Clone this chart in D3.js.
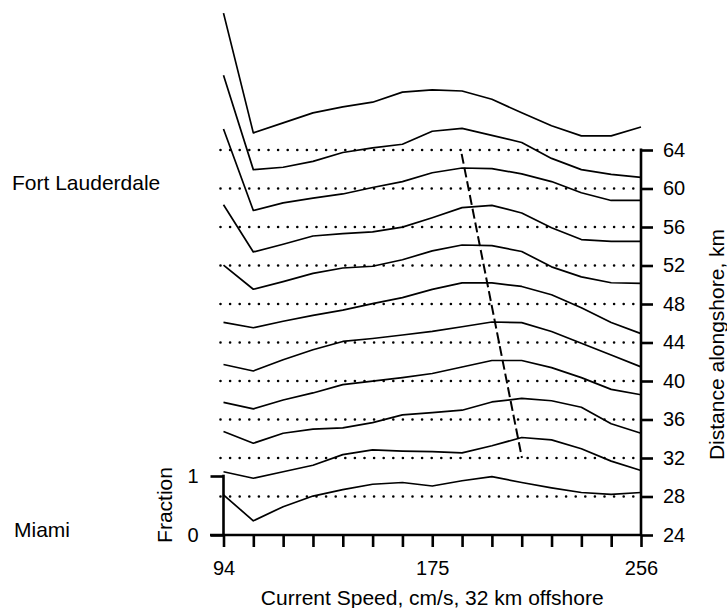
<!DOCTYPE html>
<html>
<head>
    <meta charset="utf-8">
    <title>Current speed profiles</title>
    <style>
        body { margin: 0; background: #fff; }
        text { font-family: "Liberation Sans", Arial, Helvetica, sans-serif; fill: #000; }
    </style>
</head>
<body>
<div class="plot_container"></div>
<script src="https://cdn.jsdelivr.net/npm/d3@7/dist/d3.min.js"></script>
<script type="text/javascript">
    // current speed bins, cm/s (15 bins from 94 to 256)
    var speedMin = 94, speedMax = 256, nBins = 15;
    var speeds = d3.range(nBins).map(function(k){ return speedMin + k*(speedMax-speedMin)/(nBins-1); });
    var speedLabels = [94, 175, 256];

    // distance alongshore of each profile, km
    var distances = [24, 28, 32, 36, 40, 44, 48, 52, 56, 60, 64];
    var distTicks = [24, 28, 32, 36, 40, 44, 48, 52, 56, 60, 64];

    // fraction of time exceeding speed, one array per profile
    var profile24 = [0.68, 0.24, 0.48, 0.66, 0.77, 0.86, 0.89, 0.83, 0.92, 0.99, 0.89, 0.80, 0.72, 0.69, 0.72];
    var profile28 = [0.42, 0.31, 0.42, 0.53, 0.71, 0.79, 0.77, 0.76, 0.74, 0.86, 1.00, 0.96, 0.81, 0.60, 0.44];
    var profile32 = [0.45, 0.25, 0.42, 0.49, 0.51, 0.60, 0.73, 0.77, 0.81, 0.95, 1.01, 0.97, 0.86, 0.58, 0.42];
    var profile36 = [0.29, 0.18, 0.33, 0.45, 0.59, 0.65, 0.71, 0.78, 0.89, 1.00, 1.00, 0.88, 0.71, 0.51, 0.42];
    var profile40 = [0.28, 0.17, 0.36, 0.53, 0.67, 0.72, 0.78, 0.84, 0.92, 1.00, 0.99, 0.84, 0.64, 0.44, 0.24];
    var profile44 = [0.34, 0.25, 0.36, 0.46, 0.55, 0.66, 0.76, 0.90, 1.01, 1.01, 0.95, 0.81, 0.59, 0.34, 0.15];
    var profile48 = [0.66, 0.25, 0.38, 0.52, 0.61, 0.64, 0.75, 0.90, 1.00, 0.99, 0.89, 0.63, 0.46, 0.36, 0.35];
    var profile52 = [1.03, 0.23, 0.36, 0.50, 0.54, 0.57, 0.65, 0.81, 0.98, 1.02, 0.89, 0.64, 0.44, 0.41, 0.41];
    var profile56 = [1.66, 0.28, 0.41, 0.49, 0.56, 0.67, 0.77, 0.92, 1.00, 0.99, 0.90, 0.77, 0.58, 0.45, 0.45];
    var profile60 = [1.92, 0.32, 0.36, 0.46, 0.61, 0.69, 0.75, 0.97, 1.02, 0.90, 0.78, 0.51, 0.32, 0.24, 0.19];
    var profile64 = [2.32, 0.29, 0.46, 0.63, 0.73, 0.81, 0.98, 1.02, 1.00, 0.86, 0.63, 0.41, 0.24, 0.24, 0.39];
    var profiles = [profile24, profile28, profile32, profile36, profile40, profile44,
                    profile48, profile52, profile56, profile60, profile64];

    // dashed line through the peaks: [speed, km]
    var peakLine = [[186.4, 63.6], [209.8, 32]];

    var width = 727;
    var height = 608;

    var svg = d3.select(".plot_container").append("svg")
            .attr("width", width)
            .attr("height", height);

    var x = d3.scaleLinear().domain([speedMin, speedMax]).range([223.5, 641]);
    var y = d3.scaleLinear().domain([24, 64]).range([535, 150]);
    var yFrac = d3.scaleLinear().domain([0, 1]).range([535, 476]);

    // dotted reference lines
    svg.selectAll(".grid")
            .data(distTicks.slice(1))
            .enter()
            .append("line")
            .attr("class", "grid")
            .attr("x1", x(speedMin) - 3)
            .attr("x2", x(speedMax))
            .attr("y1", function(d){ return y(d); })
            .attr("y2", function(d){ return y(d); })
            .attr("stroke", "#000")
            .attr("stroke-width", 2.6)
            .attr("stroke-linecap", "round")
            .attr("stroke-dasharray", "0,9.6");

    // profiles, each offset by its distance alongshore
    var line = d3.line()
            .x(function(d){ return x(d.s); })
            .y(function(d){ return d.y; });

    svg.selectAll(".profile")
            .data(profiles)
            .enter()
            .append("path")
            .attr("class", "profile")
            .attr("d", function(p, i){
                var shift = y(24) - y(distances[i]);
                return line(p.map(function(f, k){
                    return {s: speeds[k], y: yFrac(f) - shift};
                }));
            })
            .attr("fill", "none")
            .attr("stroke", "#000")
            .attr("stroke-width", 1.7)
            .attr("stroke-linejoin", "round");

    // dashed peak line
    svg.append("line")
            .attr("x1", x(peakLine[0][0]))
            .attr("y1", y(peakLine[0][1]))
            .attr("x2", x(peakLine[1][0]))
            .attr("y2", y(peakLine[1][1]))
            .attr("stroke", "#000")
            .attr("stroke-width", 2)
            .attr("stroke-dasharray", "10,4");

    // bottom axis
    var xAxis = d3.axisBottom(x)
            .tickValues(speeds)
            .tickSize(12)
            .tickPadding(14)
            .tickFormat(function(d){
                var r = Math.round(d);
                return speedLabels.indexOf(r) >= 0 && Math.abs(d - r) < 0.01 ? r : "";
            });
    var gx = svg.append("g")
            .attr("transform", "translate(0," + y(24) + ")")
            .call(xAxis);
    gx.select(".domain").remove();
    gx.append("line")
            .attr("x1", 210).attr("x2", x(speedMax))
            .attr("stroke", "#000").attr("stroke-width", 2.6);

    // right axis
    var yAxis = d3.axisRight(y)
            .tickValues(distTicks)
            .tickSize(12)
            .tickPadding(10)
            .tickFormat(d3.format("d"));
    var gy = svg.append("g")
            .attr("transform", "translate(" + x(speedMax) + ",0)")
            .call(yAxis);
    gy.select(".domain").remove();
    gy.append("line")
            .attr("y1", y(24) + 1).attr("y2", y(64) - 1.5)
            .attr("stroke", "#000").attr("stroke-width", 2.6);

    // left fraction axis
    var fAxis = d3.axisLeft(yFrac)
            .tickValues([0, 1])
            .tickSize(13)
            .tickPadding(12)
            .tickFormat(d3.format("d"));
    var gf = svg.append("g")
            .attr("transform", "translate(" + x(speedMin) + ",0)")
            .call(fAxis);
    gf.select(".domain").remove();
    gf.append("line")
            .attr("y1", yFrac(0)).attr("y2", yFrac(1) - 1.3)
            .attr("stroke", "#000").attr("stroke-width", 2.6);

    svg.selectAll(".tick line")
            .attr("stroke", "#000")
            .attr("stroke-width", 2.6);
    svg.selectAll(".tick text")
            .attr("font-size", 20)
            .attr("fill", "#000")
            .style("font-family", "'Liberation Sans', Arial, sans-serif");

    // titles
    svg.append("text")
            .attr("x", x(175))
            .attr("y", 605)
            .attr("text-anchor", "middle")
            .attr("font-size", 21)
            .text("Current Speed, cm/s, 32 km offshore");

    svg.append("text")
            .attr("transform", "translate(724," + (y(44) + 2) + ") rotate(-90)")
            .attr("text-anchor", "middle")
            .attr("font-size", 21)
            .text("Distance alongshore, km");

    svg.append("text")
            .attr("transform", "translate(172,505) rotate(-90)")
            .attr("text-anchor", "middle")
            .attr("font-size", 21)
            .text("Fraction");

    svg.append("text")
            .attr("x", 12)
            .attr("y", 190)
            .attr("font-size", 21)
            .text("Fort Lauderdale");

    svg.append("text")
            .attr("x", 14)
            .attr("y", 537)
            .attr("font-size", 21)
            .text("Miami");
</script>
</body>
</html>
